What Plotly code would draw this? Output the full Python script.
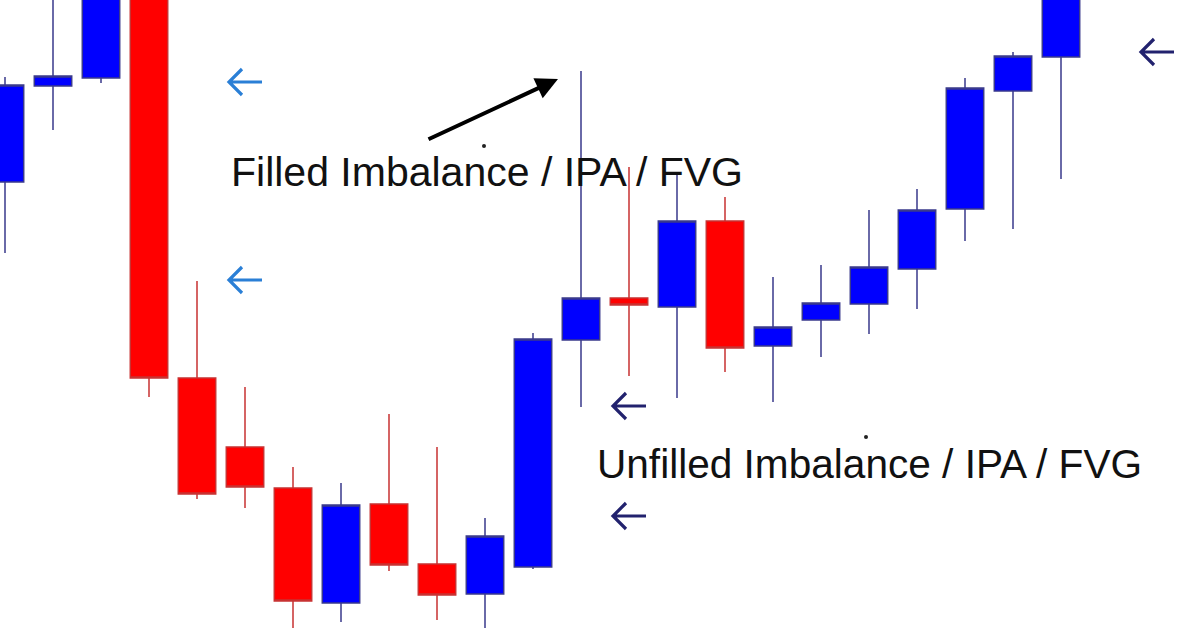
import plotly.graph_objects as go

# ---- data ----
bars = list(range(1, 24))
opens = [1.1446, 1.1542, 1.1550, 1.1668, 1.1250, 1.1181, 1.1140, 1.1025, 1.1124, 1.1064,
         1.1034, 1.1061, 1.1288, 1.1330, 1.1321, 1.1407, 1.1282, 1.1308, 1.1324, 1.1359,
         1.1419, 1.1537, 1.1571]
highs = [1.1551, 1.1658, 1.1688, 1.1678, 1.1347, 1.1241, 1.1161, 1.1145, 1.1214, 1.1181,
         1.1110, 1.1295, 1.1557, 1.1461, 1.1455, 1.1431, 1.1351, 1.1363, 1.1418, 1.1439,
         1.1550, 1.1576, 1.1698]
lows = [1.1375, 1.1498, 1.1545, 1.1231, 1.1129, 1.1120, 1.0996, 1.1006, 1.1057, 1.1008,
        1.0994, 1.1059, 1.1221, 1.1252, 1.1230, 1.1256, 1.1226, 1.1271, 1.1294, 1.1319,
        1.1387, 1.1399, 1.1449]
closes = [1.1543, 1.1552, 1.1668, 1.1250, 1.1134, 1.1141, 1.1027, 1.1123, 1.1063, 1.1033,
          1.1092, 1.1289, 1.1330, 1.1323, 1.1407, 1.1280, 1.1301, 1.1325, 1.1361, 1.1418,
          1.1540, 1.1572, 1.1673]

# labels
filled_label = "Filled Imbalance / IPA / FVG"
unfilled_label = "Unfilled Imbalance / IPA / FVG"

W, H = 1200, 628


def px(x):
    return x / W


def py(y):
    return 1 - y / H


fig = go.Figure()
fig.add_trace(go.Candlestick(
    x=bars, open=opens, high=highs, low=lows, close=closes,
    increasing=dict(fillcolor="#0000ff", line=dict(color="#3a3a8c", width=1.5)),
    decreasing=dict(fillcolor="#ff0000", line=dict(color="#c83232", width=1.5)),
    whiskerwidth=0,
    showlegend=False,
    hoverinfo="skip",
))


def left_arrow_path(cx, cy):
    pts_shaft = [(cx - 16, cy), (cx + 17, cy)]
    pts_head = [(cx - 3, cy - 13), (cx - 16, cy), (cx - 3, cy + 13)]

    def seg(pts):
        return "M " + " L ".join(f"{px(x):.5f},{py(y):.5f}" for x, y in pts)
    return seg(pts_shaft) + " " + seg(pts_head)


shapes = []
# light blue marker arrows
for (x, y) in [(245, 82), (245, 280)]:
    shapes.append(dict(type="path", xref="paper", yref="paper", path=left_arrow_path(x, y),
                       line=dict(color="#2a7fd6", width=3.2)))
# navy marker arrows
for (x, y) in [(629, 406), (629, 516), (1157, 52)]:
    shapes.append(dict(type="path", xref="paper", yref="paper", path=left_arrow_path(x, y),
                       line=dict(color="#22226e", width=3.2)))

annotations = []
font_txt = "Liberation Sans, Arial, sans-serif"

# labels
annotations.append(dict(x=px(229), y=py(172), xref="paper", yref="paper", text=filled_label,
                        showarrow=False, xanchor="left", yanchor="middle",
                        font=dict(family=font_txt, size=41, color="#111111")))
annotations.append(dict(x=px(595), y=py(464), xref="paper", yref="paper", text=unfilled_label,
                        showarrow=False, xanchor="left", yanchor="middle",
                        font=dict(family=font_txt, size=40.6, color="#111111")))

# black pointer arrow
annotations.append(dict(x=px(558), y=py(79), xref="paper", yref="paper", text="",
                        showarrow=True, ax=427 - 558, ay=140 - 79,
                        arrowhead=2, arrowsize=1.1, arrowwidth=4, arrowcolor="#000000"))

# tiny dots
fig.add_trace(go.Scatter(x=[px(484), px(866)], y=[py(146), py(437)], xaxis="x2", yaxis="y2",
                         mode="markers", marker=dict(size=4, color="#222222"),
                         showlegend=False, hoverinfo="skip"))

fig.update_layout(
    width=W, height=H,
    margin=dict(l=0, r=0, t=0, b=0),
    paper_bgcolor="white", plot_bgcolor="white",
    boxgap=0.22, boxgroupgap=0,
    # bar 1 centre sits at 5 px, spacing 48 px
    xaxis=dict(range=[1 - 5 / 48, 1 + (W - 5) / 48], visible=False,
               rangeslider=dict(visible=False)),
    yaxis=dict(range=[1.1000, 1.1628], visible=False),
    xaxis2=dict(range=[0, 1], visible=False, overlaying="x", anchor="y2"),
    yaxis2=dict(range=[0, 1], visible=False, overlaying="y", anchor="x2"),
    annotations=annotations,
    shapes=shapes,
)

fig.write_html("out.html", config={"displayModeBar": False},
               post_script="document.body.style.margin='0';")
